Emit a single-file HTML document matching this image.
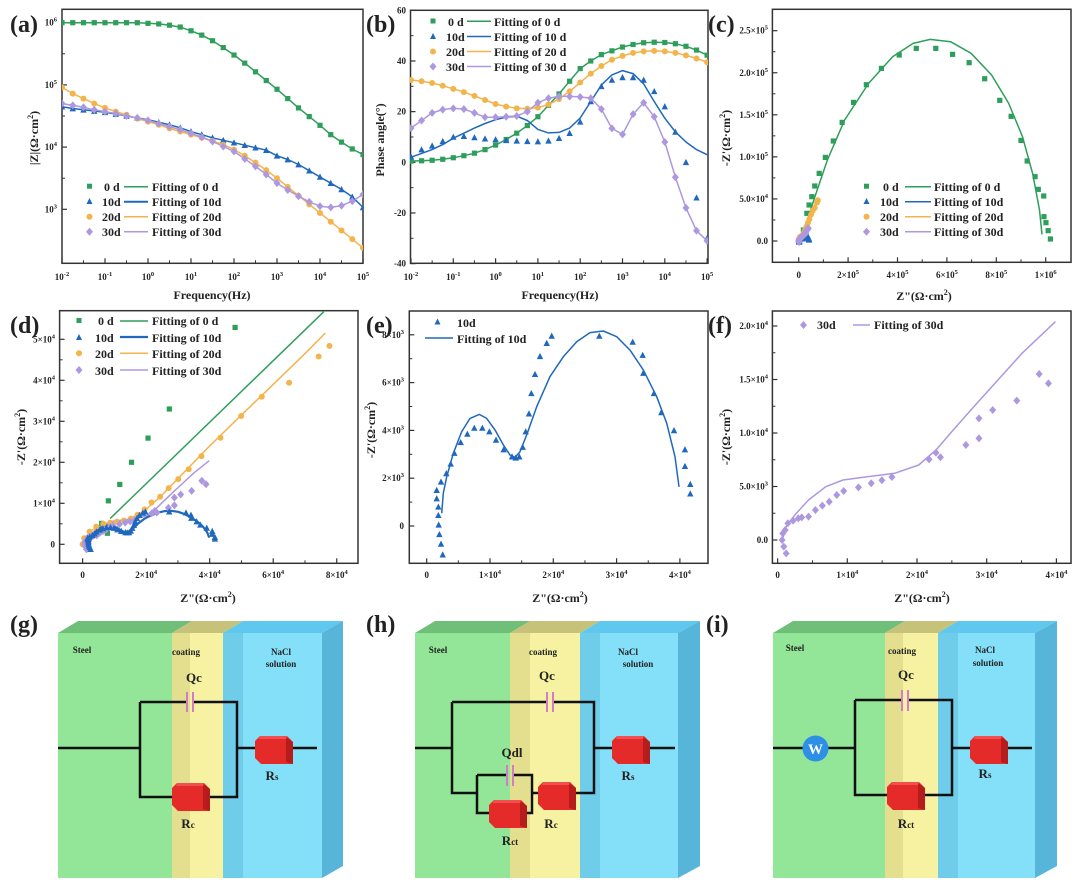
<!DOCTYPE html>
<html><head><meta charset="utf-8"><style>
html,body{margin:0;padding:0;background:#fff}
svg{display:block;font-family:"Liberation Serif",serif}
.t{font-weight:bold;fill:#222}
</style></head><body>
<svg id="fig" width="1080" height="894" viewBox="0 0 1080 894">
<defs>
<symbol id="res" viewBox="0 0 38 28"><polygon points="0,5 5,0 32,0 38,6 38,28 6,28 0,22" fill="#e52a2a"/><polygon points="31,1 38,6 38,28 31,26" fill="#b71c1c"/><polygon points="5,0 32,0 31,3 4,3" fill="#f25050"/></symbol>
<clipPath id="cpa"><rect x="62" y="9" width="301" height="254"/></clipPath>
<clipPath id="cpb"><rect x="410" y="10" width="298" height="253"/></clipPath>
<clipPath id="cpc"><rect x="772" y="9" width="299" height="254"/></clipPath>
<clipPath id="cpd"><rect x="60" y="311" width="298" height="252"/></clipPath>
<clipPath id="cpe"><rect x="409" y="311" width="299" height="252"/></clipPath>
<clipPath id="cpf"><rect x="772" y="311" width="299" height="252"/></clipPath>
</defs>

<!-- panel letters -->
<g class="t" font-size="24">
<text x="10" y="32">(a)</text>
<text x="366" y="32">(b)</text>
<text x="708" y="32">(c)</text>
<text x="10" y="333">(d)</text>
<text x="366" y="333">(e)</text>
<text x="708" y="333">(f)</text>
<text x="10" y="632">(g)</text>
<text x="366" y="632">(h)</text>
<text x="706" y="632">(i)</text>
</g>

<!-- frames -->
<g fill="none" stroke="#333" stroke-width="1.5">
<rect x="62" y="9.3" width="301" height="254"/>
<rect x="410.5" y="10.3" width="297.5" height="253"/>
<rect x="772.4" y="9.3" width="298.6" height="253"/>
<rect x="59.6" y="310.7" width="298.4" height="252.6"/>
<rect x="409.3" y="311" width="298.7" height="252.3"/>
<rect x="772.4" y="311" width="298.6" height="252.3"/>
</g>

<!-- axis titles -->
<g class="t" font-size="12" text-anchor="middle">
<text x="212" y="299">Frequency(Hz)</text>
<text x="560" y="299">Frequency(Hz)</text>
<text x="924" y="300">Z"(Ω·cm<tspan font-size="8" dy="-5">2</tspan><tspan dy="5">)</tspan></text>
<text x="208" y="602">Z"(Ω·cm<tspan font-size="8" dy="-5">2</tspan><tspan dy="5">)</tspan></text>
<text x="560" y="602">Z"(Ω·cm<tspan font-size="8" dy="-5">2</tspan><tspan dy="5">)</tspan></text>
<text x="922" y="602">Z"(Ω·cm<tspan font-size="8" dy="-5">2</tspan><tspan dy="5">)</tspan></text>
<text transform="translate(38,138) rotate(-90)">|Z|(Ω·cm<tspan font-size="8" dy="-5">2</tspan><tspan dy="5">)</tspan></text>
<text transform="translate(384,140) rotate(-90)">Phase angle(°)</text>
<text transform="translate(730,138) rotate(-90)">-Z'(Ω·cm<tspan font-size="8" dy="-5">2</tspan><tspan dy="5">)</tspan></text>
<text transform="translate(25,437) rotate(-90)">-Z'(Ω·cm<tspan font-size="8" dy="-5">2</tspan><tspan dy="5">)</tspan></text>
<text transform="translate(375,430) rotate(-90)">-Z'(Ω·cm<tspan font-size="8" dy="-5">2</tspan><tspan dy="5">)</tspan></text>
<text transform="translate(730,437) rotate(-90)">-Z'(Ω·cm<tspan font-size="8" dy="-5">2</tspan><tspan dy="5">)</tspan></text>
</g>

<g id="marks"></g>

<!-- legends -->
<g class="t" font-size="12">
<g>
<rect x="87" y="183.7" width="5" height="5" fill="#2e9e5b"/><text x="104" y="191">0 d</text><line x1="124" y1="186.7" x2="148" y2="186.7" stroke="#2e9e5b" stroke-width="1.5"/><text x="152" y="191">Fitting of  0 d</text>
<polygon points="89.5,198 86.5,204 92.5,204" fill="#1f68bd"/><text x="102" y="206">10d</text><line x1="124" y1="201.7" x2="148" y2="201.7" stroke="#1f68bd" stroke-width="2"/><text x="152" y="206">Fitting of 10d</text>
<circle cx="89.5" cy="216.7" r="3" fill="#f3b44c"/><text x="102" y="221">20d</text><line x1="124" y1="216.7" x2="148" y2="216.7" stroke="#f3b44c" stroke-width="1.5"/><text x="152" y="221">Fitting of 20d</text>
<polygon points="89.5,227.7 93,231.7 89.5,235.7 86,231.7" fill="#ad98e0"/><text x="102" y="236">30d</text><line x1="124" y1="231.7" x2="148" y2="231.7" stroke="#ad98e0" stroke-width="1.5"/><text x="152" y="236">Fitting of 30d</text>
</g>
<g>
<rect x="430.5" y="18.5" width="5" height="5" fill="#2e9e5b"/><text x="448" y="26">0 d</text><line x1="467" y1="21.3" x2="491" y2="21.3" stroke="#2e9e5b" stroke-width="1.5"/><text x="494" y="26">Fitting of  0 d</text>
<polygon points="433,33 430,39 436,39" fill="#1f68bd"/><text x="446" y="41">10d</text><line x1="467" y1="36.5" x2="491" y2="36.5" stroke="#1f68bd" stroke-width="1.5"/><text x="494" y="41">Fitting of 10 d</text>
<circle cx="433" cy="51.5" r="3" fill="#f3b44c"/><text x="446" y="56">20d</text><line x1="467" y1="51.5" x2="491" y2="51.5" stroke="#f3b44c" stroke-width="1.5"/><text x="494" y="56">Fitting of 20 d</text>
<polygon points="433,62.5 436.5,66.5 433,70.5 429.5,66.5" fill="#ad98e0"/><text x="446" y="71">30d</text><line x1="467" y1="66.5" x2="491" y2="66.5" stroke="#ad98e0" stroke-width="1.5"/><text x="494" y="71">Fitting of 30 d</text>
</g>
<g>
<rect x="864" y="183.7" width="5" height="5" fill="#2e9e5b"/><text x="883" y="191">0 d</text><line x1="905" y1="186.7" x2="931" y2="186.7" stroke="#2e9e5b" stroke-width="1.5"/><text x="934" y="191">Fitting of  0 d</text>
<polygon points="866.5,198 863.5,204 869.5,204" fill="#1f68bd"/><text x="880" y="206">10d</text><line x1="905" y1="201.7" x2="931" y2="201.7" stroke="#1f68bd" stroke-width="1.5"/><text x="934" y="206">Fitting of 10d</text>
<circle cx="866.5" cy="216.7" r="3" fill="#f3b44c"/><text x="880" y="221">20d</text><line x1="905" y1="216.7" x2="931" y2="216.7" stroke="#f3b44c" stroke-width="1.5"/><text x="934" y="221">Fitting of 20d</text>
<polygon points="866.5,227.7 870,231.7 866.5,235.7 863,231.7" fill="#ad98e0"/><text x="880" y="236">30d</text><line x1="905" y1="231.7" x2="931" y2="231.7" stroke="#ad98e0" stroke-width="1.5"/><text x="934" y="236">Fitting of 30d</text>
</g>
<g>
<rect x="76.5" y="318" width="5" height="5" fill="#2e9e5b"/><text x="98" y="325">0 d</text><line x1="120" y1="321" x2="148" y2="321" stroke="#2e9e5b" stroke-width="1.5"/><text x="152" y="325">Fitting of  0 d</text>
<polygon points="79,334 76,340 82,340" fill="#1f68bd"/><text x="95" y="342">10d</text><line x1="120" y1="337" x2="148" y2="337" stroke="#1f68bd" stroke-width="2.2"/><text x="152" y="342">Fitting of 10d</text>
<circle cx="79" cy="353.3" r="3" fill="#f3b44c"/><text x="95" y="358">20d</text><line x1="120" y1="353.3" x2="148" y2="353.3" stroke="#f3b44c" stroke-width="1.5"/><text x="152" y="358">Fitting of 20d</text>
<polygon points="79,366 82.5,370 79,374 75.5,370" fill="#ad98e0"/><text x="95" y="375">30d</text><line x1="120" y1="370" x2="148" y2="370" stroke="#ad98e0" stroke-width="1.5"/><text x="152" y="375">Fitting of 30d</text>
</g>
<g>
<polygon points="437.5,318.5 434.5,324.5 440.5,324.5" fill="#1f68bd"/><text x="457" y="327">10d</text>
<line x1="425" y1="338" x2="453" y2="338" stroke="#1f68bd" stroke-width="1.5"/><text x="457" y="343">Fitting of 10d</text>
</g>
<g>
<polygon points="803.5,321 807,325 803.5,329 800,325" fill="#ad98e0"/><text x="817" y="329">30d</text>
<line x1="853" y1="325" x2="870" y2="325" stroke="#ad98e0" stroke-width="1.5"/><text x="874" y="329">Fitting of 30d</text>
</g>
</g>

<!-- circuit g -->
<g>
<polygon points="58,633 78,621 192,621 172,633" fill="#70bf78"/>
<polygon points="172,633 192,621 243,621 223,633" fill="#c6c27a"/>
<polygon points="223,633 243,621 343,621 322,633" fill="#60c8ee"/>
<rect x="58" y="633" width="114" height="245" fill="#93e698"/>
<rect x="172" y="633" width="51" height="245" fill="#f6f2a2"/>
<rect x="172" y="633" width="18" height="245" fill="#e4df8e"/>
<rect x="223" y="633" width="99" height="245" fill="#84e0f8"/>
<rect x="223" y="633" width="20" height="245" fill="#6fcdea"/>
<polygon points="322,633 343,621 343,866 322,878" fill="#58b5da"/>
<g fill="none" stroke="#111" stroke-width="2.5">
<path d="M58 748H140M140 702V797H237V702H193M187 702H140M237 748H317"/>
</g>
<g stroke="#d47cc8" stroke-width="2"><line x1="187" y1="692" x2="187" y2="712"/><line x1="193" y1="692" x2="193" y2="712"/></g>
<use href="#res" x="172" y="783" width="38" height="28"/>
<use href="#res" x="255" y="736" width="38" height="28"/>
<g class="t" font-size="9" text-anchor="middle"><text x="82" y="653">Steel</text><text x="186" y="655">coating</text><text x="281" y="655">NaCl</text><text x="281" y="667">solution</text></g>
<g class="t" font-size="13" text-anchor="middle"><text x="194" y="682">Qc</text><text x="272" y="780">R<tspan font-size="9">s</tspan></text><text x="188" y="828">R<tspan font-size="9">c</tspan></text></g>
</g>

<!-- circuit h -->
<g>
<polygon points="415,633 435,621 530,621 510,633" fill="#70bf78"/>
<polygon points="510,633 530,621 600,621 580,633" fill="#c6c27a"/>
<polygon points="580,633 600,621 700,621 678,633" fill="#60c8ee"/>
<rect x="415" y="633" width="95" height="245" fill="#93e698"/>
<rect x="510" y="633" width="70" height="245" fill="#f6f2a2"/>
<rect x="510" y="633" width="20" height="245" fill="#e4df8e"/>
<rect x="580" y="633" width="98" height="245" fill="#84e0f8"/>
<rect x="580" y="633" width="20" height="245" fill="#6fcdea"/>
<polygon points="678,633 700,621 700,866 678,878" fill="#58b5da"/>
<g fill="none" stroke="#111" stroke-width="2.5">
<path d="M415 748H452M452 702H547M553 702H594V793H540M594 748H675M452 702V793H477M477 775V813H532V775H513M507 775H477M532 793H540"/>
</g>
<g stroke="#d47cc8" stroke-width="2"><line x1="547" y1="692" x2="547" y2="712"/><line x1="553" y1="692" x2="553" y2="712"/><line x1="507" y1="765" x2="507" y2="786"/><line x1="513" y1="765" x2="513" y2="786"/></g>
<use href="#res" x="489" y="800" width="38" height="28"/>
<use href="#res" x="538" y="782" width="38" height="28"/>
<use href="#res" x="612" y="736" width="38" height="28"/>
<g class="t" font-size="9" text-anchor="middle"><text x="438" y="653">Steel</text><text x="543" y="655">coating</text><text x="628" y="655">NaCl</text><text x="638" y="667">solution</text></g>
<g class="t" font-size="13" text-anchor="middle"><text x="547" y="680">Qc</text><text x="512" y="757">Qdl</text><text x="628" y="780">R<tspan font-size="9">s</tspan></text><text x="551" y="828">R<tspan font-size="9">c</tspan></text><text x="510" y="845">R<tspan font-size="9">ct</tspan></text></g>
</g>

<!-- circuit i -->
<g>
<polygon points="773,633 793,621 905,621 885,633" fill="#70bf78"/>
<polygon points="885,633 905,621 958,621 938,633" fill="#c6c27a"/>
<polygon points="938,633 958,621 1057,621 1035,633" fill="#60c8ee"/>
<rect x="773" y="633" width="112" height="245" fill="#93e698"/>
<rect x="885" y="633" width="53" height="245" fill="#f6f2a2"/>
<rect x="885" y="633" width="18" height="245" fill="#e4df8e"/>
<rect x="938" y="633" width="97" height="245" fill="#84e0f8"/>
<rect x="938" y="633" width="20" height="245" fill="#6fcdea"/>
<polygon points="1035,633 1057,621 1057,866 1035,878" fill="#58b5da"/>
<g fill="none" stroke="#111" stroke-width="2.5">
<path d="M773 748H855M855 700V795H952V700H908M902 700H855M952 748H1032"/>
</g>
<g stroke="#d47cc8" stroke-width="2"><line x1="902" y1="690" x2="902" y2="711"/><line x1="908" y1="690" x2="908" y2="711"/></g>
<circle cx="815.5" cy="748.5" r="13" fill="#2d8fe6"/>
<text x="815.5" y="754" text-anchor="middle" font-size="15" fill="#fff" class="t" style="fill:#fff">W</text>
<use href="#res" x="887" y="782" width="38" height="28"/>
<use href="#res" x="970" y="736" width="38" height="28"/>
<g class="t" font-size="9" text-anchor="middle"><text x="795" y="651">Steel</text><text x="902" y="654">coating</text><text x="985" y="653">NaCl</text><text x="988" y="666">solution</text></g>
<g class="t" font-size="13" text-anchor="middle"><text x="906" y="679">Qc</text><text x="985" y="778">R<tspan font-size="9">s</tspan></text><text x="906" y="828">R<tspan font-size="9">ct</tspan></text></g>
</g>
</svg>

<script>
// ---------- data ----------
const logF=[-2,-1.75,-1.5,-1.25,-1,-0.75,-0.5,-0.25,0,0.25,0.5,0.75,1,1.25,1.5,1.75,2,2.25,2.5,2.75,3,3.25,3.5,3.75,4,4.25,4.5,4.75,5];
const logZ0=[6,6,6,6,6,6,6,6,5.99,5.98,5.96,5.93,5.87,5.8,5.71,5.6,5.48,5.35,5.21,5.07,4.93,4.78,4.63,4.49,4.35,4.2,4.08,3.97,3.88];
const logZ10=[4.65,4.62,4.6,4.58,4.56,4.53,4.5,4.47,4.44,4.4,4.36,4.31,4.25,4.2,4.15,4.11,4.07,4.03,3.99,3.95,3.86,3.8,3.72,3.62,3.52,3.42,3.32,3.2,3.03];
const logZ20=[4.96,4.86,4.78,4.7,4.63,4.57,4.52,4.46,4.41,4.36,4.3,4.25,4.2,4.15,4.1,4.04,3.96,3.86,3.75,3.63,3.5,3.36,3.22,3.08,2.94,2.8,2.66,2.52,2.38];
const logZ30=[4.70,4.67,4.64,4.6,4.57,4.54,4.5,4.47,4.43,4.38,4.33,4.28,4.22,4.16,4.09,4.01,3.93,3.81,3.69,3.56,3.42,3.31,3.21,3.12,3.05,3.03,3.06,3.13,3.24];
const phase0=[0.5,0.6,0.8,1.2,1.8,2.6,3.6,5,6.8,9,11.5,14.5,18,22.5,27,32,37,40,42.5,44,45.5,46.5,47.2,47.4,47.3,46.8,45.8,44.3,42.3];
const phase10=[2.2,5,6.5,8.3,10,10.3,9.8,9.3,9,8.7,8.5,8.3,8.2,8.5,9.5,11.5,16,24,30,32.5,33.5,33.5,32.5,28,22,12,0,-14,-30];
const phase10Fit=[2,3.5,5,7,9.5,11.5,13.5,15.3,16.8,17.8,18.2,16.5,13,11.6,11.8,13.5,17.5,24,30.5,34.5,36.2,35,31,24,17.4,12,8,5,3];
const phase20=[32.5,32,31.3,30.2,29,27.7,26.2,24.6,23,22,21.3,21.2,21.6,22.8,25,28,31.5,35,38,40.5,42,43.2,43.8,44,43.8,43.2,42.2,41,39.5];
const phase30=[13.5,16.5,19.5,20.8,21.3,21,19.5,17.8,17.8,18,18.3,20,23.5,25.3,26,26,25.8,25.3,21,13.4,11,19,23.5,18,8,-5.9,-18,-27,-31];
// Nyquist data, kΩ·cm²
const c0x=[19,33,42,53,65,83,108,140,176,222,274,335,407,476,555,623,690,753,814,860,900,925,957,970,992,993,1001,1010,1019];
const c0y=[13.1,32.9,42.8,52.7,65.4,80.4,99.4,118.9,141,164.8,185.8,205.2,221.1,229,229,221.9,212,192.9,167.2,148.2,119.6,95.1,76.5,61.4,53.5,28.9,21.8,12.3,2.4];
const c0fx=[12,61,116,186,283,380,463,532,615,698,781,850,906,947,975,985];
const c0fy=[3.2,48.7,96.3,143.8,187.4,219.1,234.9,239.7,236.9,223.1,197.3,163.6,124,80.4,36.8,7.9];
const d0x=[6,7.8,8.1,11.7,15.4,20.6,27.3,48];
const d0y=[5.1,2.7,10.6,14.6,20,25.9,33,52.9];
const d0fx=[8.7,75.9];
const d0fy=[6.3,56.7];
const n20x=[0,0.5,2.2,4.3,6.5,8.7,10.8,13,15.2,17.3,19.5,21.7,24.4,27.1,30.1,33.4,37.4,43.4,49.9,56.4,65,74.3,77.7];
const n20y=[0,1.5,3.1,4.3,5,5.3,5.5,5.8,6.3,7.2,8.5,10.2,11.6,13.7,15.9,18.3,21.5,26,31.3,36,39.4,45.8,48.4];
const n20fx=[0,3,8,15,20,25,30,40,50,60,70,76.4];
const n20fy=[0,3.5,5,6.2,8.5,12,16,24,31.5,39,46.5,51.5];
const n10x=[1.58,1.58,1.84,1.84,1.89,2.0,2.26,2.53,2.26,3.1,3.79,4.37,5.37,6.42,7.52,8.79,9.9,10.95,12.16,13.48,14.06,14.63,15.17,15.64,16.16,16.53,17.11,17.9,18.96,19.75,27.27,32.54,34.12,34.22,35.9,37.06,39.07,40.8,40.8,41.64,41.64];
const n10y=[1.5,1.15,0.8,0.45,0.05,-0.35,-0.75,-1.2,1.85,2.2,2.6,3.05,3.5,3.85,4.1,4.1,3.95,3.6,3.2,2.9,2.85,2.9,3.3,3.95,4.7,5.55,6.35,7.1,7.65,7.95,7.95,7.7,7.15,6.4,5.55,4.75,4.0,3.2,2.5,1.75,1.35];
const n10fx=[2.37,2.63,3.16,4.21,5.53,6.84,8.31,9.48,10.79,12.11,13.16,13.95,14.74,15.8,17.38,19.48,21.58,23.7,25.8,27.9,30.02,32.12,34.22,36.33,37.91,39.23,39.86];
const n10fy=[0.53,1.37,2.06,3.04,3.95,4.5,4.67,4.5,4.02,3.39,2.97,2.87,3.11,3.81,4.99,6.25,7.08,7.71,8.09,8.16,7.92,7.36,6.53,5.41,4.3,2.9,1.64];
const n30x=[1.23,0.89,0.64,0.74,1.09,1.48,2.22,2.96,3.46,4.44,5.43,6.42,7.41,8.49,9.48,11.6,13.43,14.96,16.4,21.73,22.72,23.36,27.01,28.89,28.89,30.86,34.32,37.53,38.86];
const n30y=[-1.25,-0.62,0,0.62,0.93,1.56,1.81,2.02,2.12,2.18,2.8,3.21,3.58,4.21,4.58,4.92,5.3,5.58,5.89,7.54,8.16,7.73,8.88,9.5,11.37,12.15,13.02,15.51,14.64];
const n30fx=[0.74,1.23,2.47,4.44,6.91,9.38,12.84,16.79,20.25,22.72,25.19,28.15,31.6,35.06,39.85];
const n30fy=[0.16,1.25,2.34,3.74,4.98,5.61,5.92,6.23,7.01,8.41,10.28,12.46,14.95,17.45,20.4];
// tick values and labels
const aXTicks=[-2,-1,0,1,2,3,4,5];
const aXLabels=["10^-2","10^-1","10^0","10^1","10^2","10^3","10^4","10^5"];
const aYTicks=[6,5,4,3];
const aYLabels=["10^6","10^5","10^4","10^3"];
const bYTicks=[60,40,20,0,-20,-40];
const bYLabels=["60","40","20","0","-20","-40"];
const cXTicks=[0,200,400,600,800,1000];
const cXLabels=["0","2×10^5","4×10^5","6×10^5","8×10^5","1×10^6"];
const cYTicks=[0,50,100,150,200,250];
const cYLabels=["0.0","5.0×10^4","1.0×10^5","1.5×10^5","2.0×10^5","2.5×10^5"];
const dXTicks=[0,20,40,60,80];
const dXLabels=["0","2×10^4","4×10^4","6×10^4","8×10^4"];
const dYTicks=[0,10,20,30,40,50];
const dYLabels=["0","1×10^4","2×10^4","3×10^4","4×10^4","5×10^4"];
const eXTicks=[0,10,20,30,40];
const eXLabels=["0","1×10^4","2×10^4","3×10^4","4×10^4"];
const eYTicks=[0,2,4,6,8];
const eYLabels=["0","2×10^3","4×10^3","6×10^3","8×10^3"];
const fXTicks=[0,10,20,30,40];
const fXLabels=["0","1×10^4","2×10^4","3×10^4","4×10^4"];
const fYTicks=[0,5,10,15,20];
const fYLabels=["0.0","5.0×10^3","1.0×10^4","1.5×10^4","2.0×10^4"];

// ---------- scales ----------
const ax={sx:v=>62+(v+2)*43, sy:v=>22.7+(6-v)*62.2, box:[62,9.3,363,263.3]};
const bx={sx:v=>411+(v+2)*42.3, sy:v=>162.3-v*2.533, box:[410.5,10.3,708,263.3]};
const cx={sx:v=>798.7+v*0.247, sy:v=>241-v*0.8412, box:[772.4,9.3,1071,262.3]};
const dx={sx:v=>82.6+v*3.177, sy:v=>544.3-v*4.1, box:[59.6,310.7,358,563.3]};
const ex={sx:v=>426.7+v*6.33, sy:v=>526-v*23.9, box:[409.3,311,708,563.3]};
const fx={sx:v=>777.6+v*6.97, sy:v=>540-v*10.7, box:[772.4,311,1071,563.3]};

const NS="http://www.w3.org/2000/svg";
const root=document.getElementById('marks');
const C={g:"#2e9e5b",b:"#1f68bd",o:"#f3b44c",p:"#ad98e0"};
function mk(tag,parent,attrs){const e=document.createElementNS(NS,tag);for(const k in attrs)e.setAttribute(k,attrs[k]);parent.appendChild(e);return e;}
function group(clip){return mk('g',root,clip?{'clip-path':'url(#'+clip+')'}:{});}
function line(g,A,xs,ys,color,w,name){
  let d='';for(let i=0;i<xs.length;i++){d+=(i?'L':'M')+A.sx(xs[i]).toFixed(1)+' '+A.sy(ys[i]).toFixed(1);}
  const p=mk('path',g,{d:d,fill:'none',stroke:color,'stroke-width':w||1.5,'stroke-linejoin':'round'});
  
  
}
function pts(g,A,xs,ys,shape,color,name){
  for(let i=0;i<xs.length;i++){
    const x=A.sx(xs[i]),y=A.sy(ys[i]);let e;
    if(shape==='s')e=mk('rect',g,{x:x-2.6,y:y-2.6,width:5.2,height:5.2,fill:color});
    else if(shape==='t')e=mk('polygon',g,{points:`${x},${y-3.4} ${x-3.2},${y+2.8} ${x+3.2},${y+2.8}`,fill:color});
    else if(shape==='c')e=mk('circle',g,{cx:x,cy:y,r:3,fill:color});
    else e=mk('polygon',g,{points:`${x},${y-4} ${x+3.5},${y} ${x},${y+4} ${x-3.5},${y}`,fill:color});
    
    
  }
}
function lbl(parent,x,y,s,anchor){
  const t=mk('text',parent,{x:x,y:y,'text-anchor':anchor,'font-size':9,'font-weight':'bold',fill:'#222'});
  const parts=s.split('^');t.appendChild(document.createTextNode(parts[0]));
  if(parts[1]!==undefined){const ts=mk('tspan',t,{'font-size':6.5,dy:-4});ts.textContent=parts[1];}
  return t;
}
function axes(A,xt,xl,yt,yl,xLabY,yLabX){
  const g=mk('g',root,{});
  const [x0,y0,x1,y1]=A.box;
  for(let i=0;i<xt.length;i++){const x=A.sx(xt[i]);
    const tk=mk('line',g,{x1:x,x2:x,y1:y1,y2:y1-5,stroke:'#333','stroke-width':1.2});
    
    
    const t=lbl(g,x,xLabY,xl[i],'middle');
    
    
    if(i<xt.length-1){const xm=A.sx((xt[i]+xt[i+1])/2);mk('line',g,{x1:xm,x2:xm,y1:y1,y2:y1-3,stroke:'#333','stroke-width':1});}
  }
  for(let i=0;i<yt.length;i++){const y=A.sy(yt[i]);
    const tk=mk('line',g,{x1:x0,x2:x0+5,y1:y,y2:y,stroke:'#333','stroke-width':1.2});
    
    
    const t=lbl(g,yLabX,y+3,yl[i],'end');
    
    
    if(i<yt.length-1){const ym=A.sy((yt[i]+yt[i+1])/2);mk('line',g,{x1:x0,x2:x0+3,y1:ym,y2:ym,stroke:'#333','stroke-width':1});}
  }
}
// axes
axes(ax,aXTicks,aXLabels,aYTicks,aYLabels,280,57);
axes(bx,aXTicks,aXLabels,bYTicks,bYLabels,280,406);
axes(cx,cXTicks,cXLabels,cYTicks,cYLabels,278,768);
axes(dx,dXTicks,dXLabels,dYTicks,dYLabels,578,55);
axes(ex,eXTicks,eXLabels,eYTicks,eYLabels,578,404);
axes(fx,fXTicks,fXLabels,fYTicks,fYLabels,578,768);

// (a)
let g=group('cpa');
line(g,ax,logF,logZ0,C.g,1.5,'fit-line-0d');line(g,ax,logF,logZ10,C.b,1.5,'fit-line-10d');
line(g,ax,logF,logZ20,C.o,1.5,'fit-line-20d');line(g,ax,logF,logZ30,C.p,1.5,'fit-line-30d');
pts(g,ax,logF,logZ0,'s',C.g,'point-0d');pts(g,ax,logF,logZ10,'t',C.b,'point-10d');
pts(g,ax,logF,logZ20,'c',C.o,'point-20d');pts(g,ax,logF,logZ30,'d',C.p,'point-30d');
// (b)
g=group('cpb');
line(g,bx,logF,phase0,C.g,1.5,'fit-line-0d');line(g,bx,logF,phase10Fit,C.b,1.5,'fit-line-10d');
line(g,bx,logF,phase20,C.o,1.5,'fit-line-20d');line(g,bx,logF,phase30,C.p,1.5,'fit-line-30d');
pts(g,bx,logF,phase0,'s',C.g,'point-0d');pts(g,bx,logF,phase10,'t',C.b,'point-10d');
pts(g,bx,logF,phase20,'c',C.o,'point-20d');pts(g,bx,logF,phase30,'d',C.p,'point-30d');
// (c)
g=group('cpc');
line(g,cx,c0fx,c0fy,C.g,1.5,'fit-line-0d');line(g,cx,n20fx,n20fy,C.o,1.5,'fit-line-20d');
line(g,cx,n10fx,n10fy,C.b,1.5,'fit-line-10d');line(g,cx,n30fx,n30fy,C.p,1.5,'fit-line-30d');
pts(g,cx,c0x,c0y,'s',C.g,'point-0d');pts(g,cx,n20x,n20y,'c',C.o,'point-20d');
pts(g,cx,n10x,n10y,'t',C.b,'point-10d');pts(g,cx,n30x,n30y,'d',C.p,'point-30d');
// (d)
g=group('cpd');
line(g,dx,d0fx,d0fy,C.g,1.5,'fit-line-0d');line(g,dx,n20fx,n20fy,C.o,1.5,'fit-line-20d');
line(g,dx,n30fx,n30fy,C.p,1.5,'fit-line-30d');line(g,dx,n10fx,n10fy,C.b,2.2,'fit-line-10d');
pts(g,dx,d0x,d0y,'s',C.g,'point-0d');pts(g,dx,n20x,n20y,'c',C.o,'point-20d');
pts(g,dx,n30x,n30y,'d',C.p,'point-30d');pts(g,dx,n10x,n10y,'t',C.b,'point-10d');
// (e)
g=group('cpe');
line(g,ex,n10fx,n10fy,C.b,1.5,'fit-line-10d');pts(g,ex,n10x,n10y,'t',C.b,'point-10d');
// (f)
g=group('cpf');
line(g,fx,n30fx,n30fy,C.p,1.5,'fit-line-30d');pts(g,fx,n30x,n30y,'d',C.p,'point-30d');
</script>
</body></html>
